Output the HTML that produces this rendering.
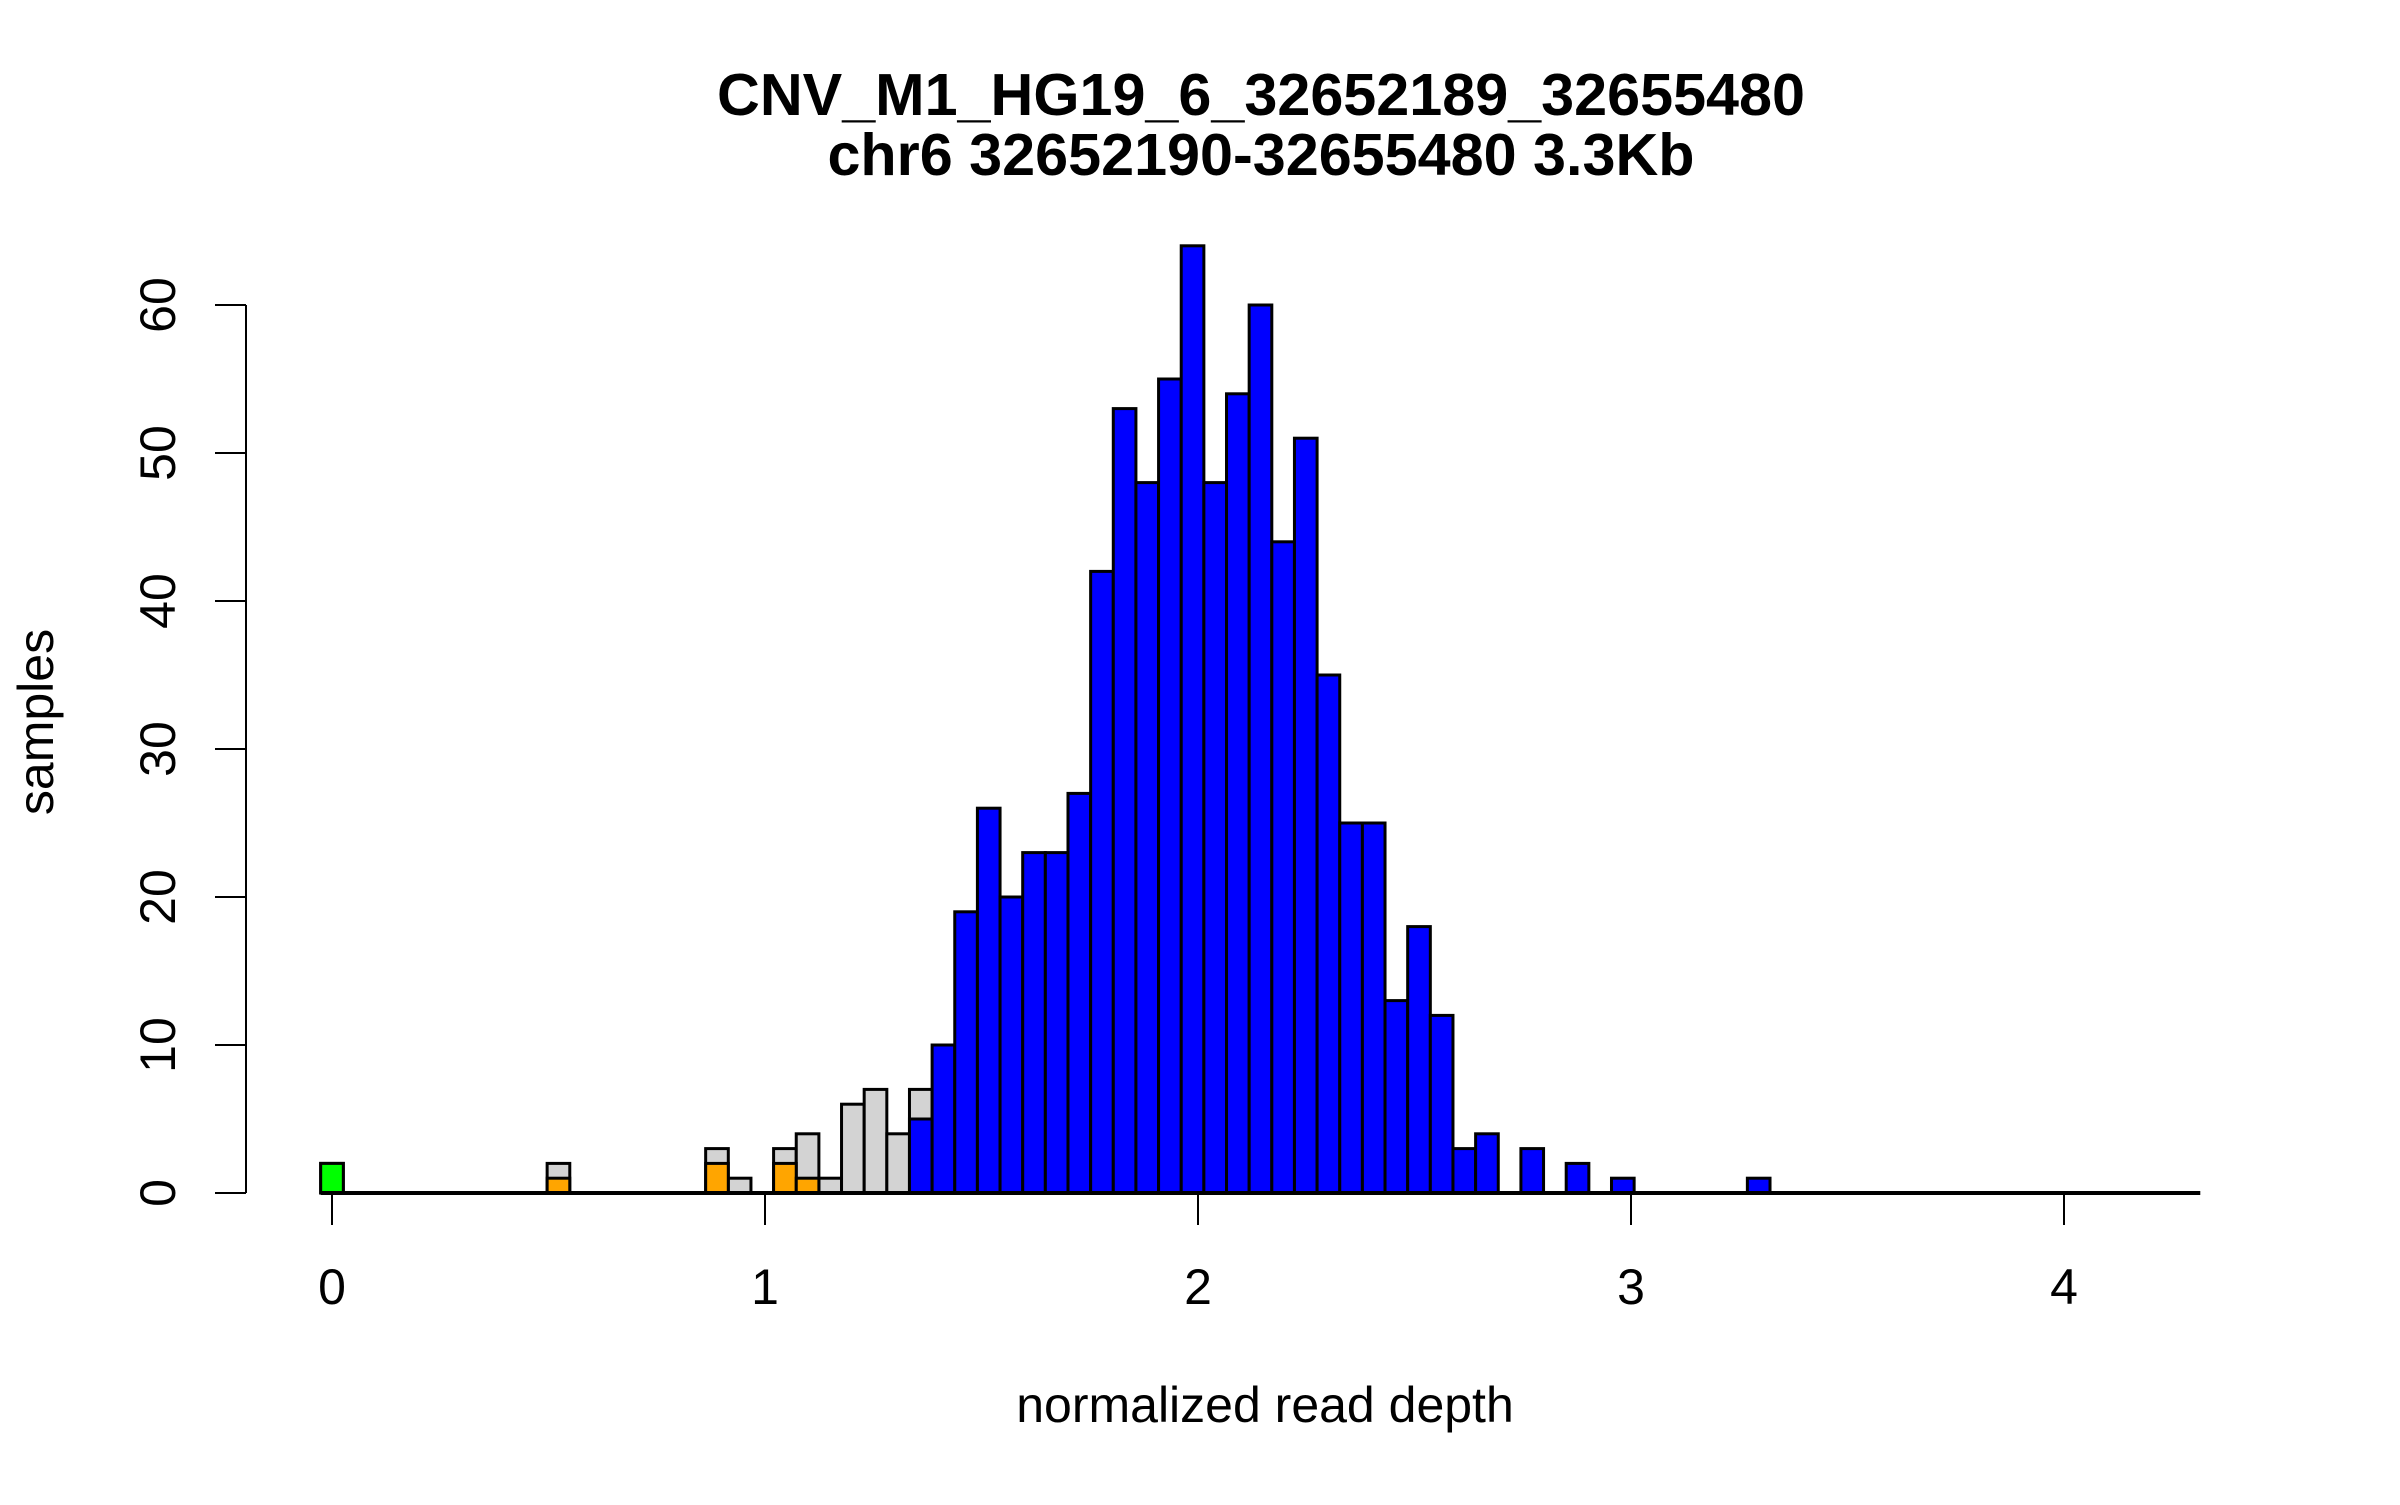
<!DOCTYPE html>
<html><head><meta charset="utf-8"><style>
html,body{margin:0;padding:0;background:#fff;}
svg text{font-family:"Liberation Sans",Arial,sans-serif;fill:#000;}
</style></head><body>
<svg id="chart" width="2400" height="1500" viewBox="0 0 2400 1500" xmlns="http://www.w3.org/2000/svg">
<rect width="2400" height="1500" fill="#fff"/>
<text x="1261" y="115" font-size="59.3" font-weight="bold" text-anchor="middle">CNV_M1_HG19_6_32652189_32655480</text>
<text x="1261" y="175" font-size="59.3" font-weight="bold" text-anchor="middle">chr6 32652190-32655480 3.3Kb</text>
<text x="1265" y="1422" font-size="50" text-anchor="middle">normalized read depth</text>
<text transform="translate(53,722) rotate(-90)" font-size="50" text-anchor="middle">samples</text>
<g id="bars"></g>
<g id="axes"></g>
</svg>
<script>
// bin index k covers ((k-0.5)*binWidth, (k+0.5)*binWidth)
const binWidth = 0.0523;
const nBins = 83;
// total counts (gray underlay) per bin index
const totalBins = [0,10,17,18,20,21,22,23,24,25,26];
const totalVals = [2,2,3,1,3,4,1,6,7,4,7];
// orange counts
const orangeBins = [10,17,20,21];
const orangeVals = [1,2,2,1];
// green counts
const greenBins = [0];
const greenVals = [2];
// blue counts
const blueBins = [26,27,28,29,30,31,32,33,34,35,36,37,38,39,40,41,42,43,44,45,46,47,48,49,50,51,53,55,57,63];
const blueVals = [5,10,19,26,20,23,23,27,42,53,48,55,64,48,54,60,44,51,35,25,25,13,18,12,3,4,3,2,1,1];
const xTicks = [0,1,2,3,4];
const yTicks = [0,10,20,30,40,50,60];

const NS = 'http://www.w3.org/2000/svg';
function xs(v){ return 332 + 433 * v; }
function ys(v){ return 1193 - 14.8 * v; }
const bars = document.getElementById('bars');
const axes = document.getElementById('axes');

function drawSeries(bins, vals, color, name){
  bins.forEach((k, i) => {
    const x0 = xs((k - 0.5) * binWidth), x1 = xs((k + 0.5) * binWidth);
    const r = document.createElementNS(NS, 'rect');
    r.setAttribute('x', x0);
    r.setAttribute('y', ys(vals[i]));
    r.setAttribute('width', x1 - x0);
    r.setAttribute('height', ys(0) - ys(vals[i]));
    r.setAttribute('fill', color);
    r.setAttribute('stroke', '#000');
    r.setAttribute('stroke-width', '3');
    
    
    bars.appendChild(r);
  });
}
drawSeries(totalBins, totalVals, '#d3d3d3', 'total');
drawSeries(orangeBins, orangeVals, '#ffa500', 'orange');
drawSeries(greenBins, greenVals, '#00ff00', 'green');
drawSeries(blueBins, blueVals, '#0000ff', 'blue');

function line(x1,y1,x2,y2,w,name){
  const l = document.createElementNS(NS, 'line');
  l.setAttribute('x1', x1); l.setAttribute('y1', y1);
  l.setAttribute('x2', x2); l.setAttribute('y2', y2);
  l.setAttribute('stroke', '#000'); l.setAttribute('stroke-width', w);
  
  
  axes.appendChild(l);
}
// baseline across all bins
line(xs(-0.5 * binWidth), ys(0), xs((nBins - 0.5) * binWidth), ys(0), 4, 'hist-baseline');

// x axis
line(xs(xTicks[0]), 1193, xs(xTicks[xTicks.length-1]), 1193, 2, 'x-axis-line');
xTicks.forEach(t => {
  line(xs(t), 1193, xs(t), 1225, 2, 'x-tick');
  const tx = document.createElementNS(NS, 'text');
  tx.setAttribute('x', xs(t)); tx.setAttribute('y', 1304);
  tx.setAttribute('font-size', '50'); tx.setAttribute('text-anchor', 'middle');
  
  
  tx.textContent = t;
  axes.appendChild(tx);
});
// y axis
line(246, ys(yTicks[0]), 246, ys(yTicks[yTicks.length-1]), 2, 'y-axis-line');
yTicks.forEach(t => {
  line(215, ys(t), 246, ys(t), 2, 'y-tick');
  const tx = document.createElementNS(NS, 'text');
  tx.setAttribute('transform', 'translate(175,' + ys(t) + ') rotate(-90)');
  tx.setAttribute('font-size', '50'); tx.setAttribute('text-anchor', 'middle');
  
  
  tx.textContent = t;
  axes.appendChild(tx);
});
</script>
</body></html>
